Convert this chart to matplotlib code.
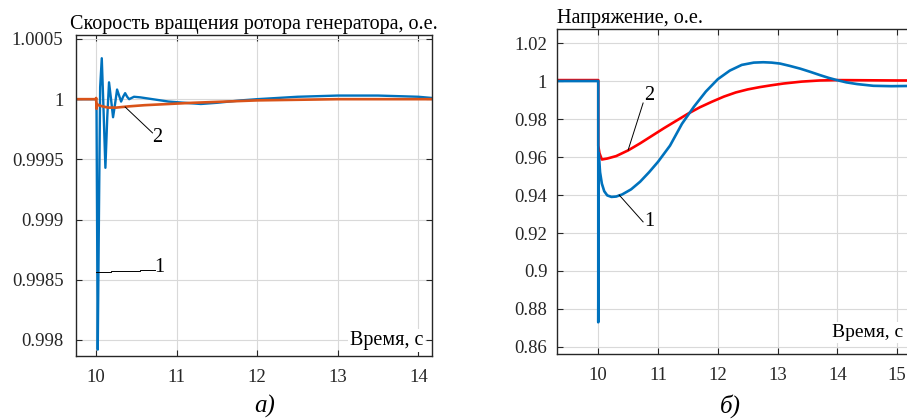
import matplotlib
matplotlib.use("Agg")
import matplotlib.pyplot as plt

plt.rcParams['font.family'] = ['Liberation Serif', 'DejaVu Serif']

# а) rotor speed, p.u.
speed_t_1 = [9.75, 10.0, 10.005, 10.02, 10.035, 10.05, 10.07, 10.09, 10.115,
             10.138, 10.16, 10.185, 10.21, 10.235, 10.26, 10.285, 10.31,
             10.335, 10.36, 10.385, 10.41, 10.44, 10.47, 10.55, 10.7, 10.9,
             11.1, 11.3, 11.5, 11.8, 12.0, 12.5, 13.0, 13.5, 14.0, 14.17]
speed_1 = [1.0, 1.0, 0.9999, 0.99792, 0.99905, 1.0001, 1.00034, 0.99995,
           0.99943, 0.99985, 1.00014, 1.0, 0.99985, 0.99996, 1.00008, 1.00003,
           0.99998, 1.00002, 1.00005, 1.00002, 1.0, 1.00001, 1.00002,
           1.000015, 1.0, 0.99998, 0.99997, 0.99996, 0.99997, 0.99999, 1.0,
           1.00002, 1.00003, 1.00003, 1.00002, 1.00001]
speed_t_2 = [9.75, 9.998, 10.0, 10.005, 10.01, 10.03, 10.08, 10.15, 10.25,
             10.4, 10.6, 10.9, 11.2, 11.6, 12.0, 12.5, 13.0, 14.17]
speed_2 = [1.0, 1.0, 1.00001, 0.99992, 0.99996, 0.99995, 0.99994, 0.99993,
           0.99993, 0.99994, 0.99995, 0.99996, 0.99997, 0.99998, 0.99999,
           0.999995, 1.0, 1.0]

# б) voltage, p.u.
volt_t_1 = [9.31, 10.0, 10.0, 10.008, 10.03, 10.06, 10.1, 10.15, 10.22, 10.3,
            10.4, 10.55, 10.7, 10.85, 11.0, 11.2, 11.4, 11.6, 11.8, 12.0,
            12.2, 12.4, 12.6, 12.76, 12.9, 13.04, 13.2, 13.38, 13.55, 13.71,
            13.85, 13.99, 14.15, 14.33, 14.6, 14.9, 15.17, 15.6, 16.2]
volt_1 = [1.0, 1.0, 0.873, 0.962, 0.952, 0.946, 0.942, 0.9398, 0.939, 0.9392,
          0.9403, 0.943, 0.947, 0.952, 0.9575, 0.966, 0.9775, 0.9865, 0.9945,
          1.001, 1.0055, 1.0085, 1.0097, 1.0099, 1.0097, 1.0092, 1.008,
          1.0065, 1.0048, 1.0031, 1.0017, 1.0005, 0.9993, 0.9984, 0.9975,
          0.9973, 0.9974, 0.9976, 0.9978]
volt_t_2 = [9.31, 10.0, 10.0, 10.02, 10.06, 10.15, 10.3, 10.5, 10.7, 10.9,
            11.1, 11.3, 11.5, 11.7, 11.9, 12.1, 12.3, 12.5, 12.7, 12.9, 13.1,
            13.4, 13.7, 14.0, 14.5, 15.0, 16.2]
volt_2 = [1.0005, 1.0005, 0.966, 0.962, 0.9587, 0.9592, 0.9605, 0.9635,
          0.9672, 0.9712, 0.9752, 0.979, 0.9828, 0.9862, 0.9891, 0.9918,
          0.994, 0.9956, 0.9968, 0.9978, 0.9987, 0.9997, 1.0003, 1.0005,
          1.0004, 1.0003, 1.0003]

speed_xticks = [10, 11, 12, 13, 14]
speed_yticks = [0.998, 0.9985, 0.999, 0.9995, 1.0, 1.0005]
speed_ylabels = ['0.998', '0.9985', '0.999', '0.9995', '1', '1.0005']
volt_xticks = [10, 11, 12, 13, 14, 15]
volt_yticks = [0.86, 0.88, 0.9, 0.92, 0.94, 0.96, 0.98, 1.0, 1.02]
volt_ylabels = ['0.86', '0.88', '0.9', '0.92', '0.94', '0.96', '0.98', '1',
                '1.02']

BLUE = '#0072BD'
ORANGE = '#D95319'
RED = '#FF0000'

fig = plt.figure(figsize=(9.07, 4.19), dpi=100, facecolor='white')
W, H = 907.0, 419.0

ax1 = fig.add_axes([76 / W, 1 - 356 / H, 356 / W, 321 / H])
ax2 = fig.add_axes([557 / W, 1 - 354 / H, 412 / W, 325 / H])


def style_axes(ax, ypad):
    ax.grid(True, color='#d9d9d9', linewidth=0.8)
    ax.set_axisbelow(True)
    ax.tick_params(direction='in', top=True, right=True, length=4,
                   width=0.8, labelsize=13.5, colors='#262626')
    ax.tick_params(axis='x', pad=9)
    ax.tick_params(axis='y', pad=ypad)
    for sp in ax.spines.values():
        sp.set_color('#262626')
        sp.set_linewidth(1.0)


# left panel
ax1.plot(speed_t_1, speed_1, color=BLUE, lw=1.7)
ax1.plot(speed_t_2, speed_2, color=ORANGE, lw=1.9)
ax1.set_xlim(9.75, 14.17)
ax1.set_ylim(0.997867, 1.000533)
ax1.set_xticks(speed_xticks)
ax1.set_yticks(speed_yticks)
ax1.set_yticklabels(speed_ylabels)
style_axes(ax1, 9)
ax1.set_title('Скорость вращения ротора генератора, о.е.', fontsize=14.5,
              pad=4)
ax1.plot([10.36, 10.70], [0.999935, 0.99972], color='black', lw=0.7)
ax1.text(10.76, 0.999678, '2', fontsize=14.5, ha='center', va='center')
ax1.plot([10.0, 10.19, 10.19, 10.55, 10.55, 10.73],
         [0.998565, 0.998565, 0.998573, 0.998573, 0.998581, 0.998581],
         color='black', lw=0.7)
ax1.text(10.79, 0.998606, '1', fontsize=14.5, ha='center', va='center')
ax1.text(14.06, 0.997994, 'Время, с', fontsize=14.5, ha='right',
         va='center', bbox=dict(facecolor='white', edgecolor='none', pad=1.5))

# right panel
ax2.plot(volt_t_2, volt_2, color=RED, lw=1.9)
ax2.plot(volt_t_1, volt_1, color=BLUE, lw=1.9)
ax2.set_xlim(9.31, 16.2)
ax2.set_ylim(0.8563, 1.0274)
ax2.set_xticks(volt_xticks)
ax2.set_yticks(volt_yticks)
ax2.set_yticklabels(volt_ylabels)
style_axes(ax2, 7)
ax2.set_title('Напряжение, о.е.', fontsize=14.5, loc='left', pad=4)
ax2.plot([10.5, 10.75], [0.96372, 0.98844], color='black', lw=0.7)
ax2.text(10.86, 0.99265, '2', fontsize=14.5, ha='center', va='center')
ax2.plot([10.35, 10.75], [0.9400, 0.92585], color='black', lw=0.7)
ax2.text(10.86, 0.92585, '1', fontsize=14.5, ha='center', va='center')
ax2.text(13.91, 0.8675, 'Время, с', fontsize=14, ha='left', va='center',
         bbox=dict(facecolor='white', edgecolor='none', pad=1.5))

fig.text(265 / W, 1 - 406 / H, 'а)', fontsize=18, style='italic',
         ha='center', va='center')
fig.text(730 / W, 1 - 406 / H, 'б)', fontsize=18, style='italic',
         ha='center', va='center')

fig.savefig('out.png', dpi=100, facecolor='white')
